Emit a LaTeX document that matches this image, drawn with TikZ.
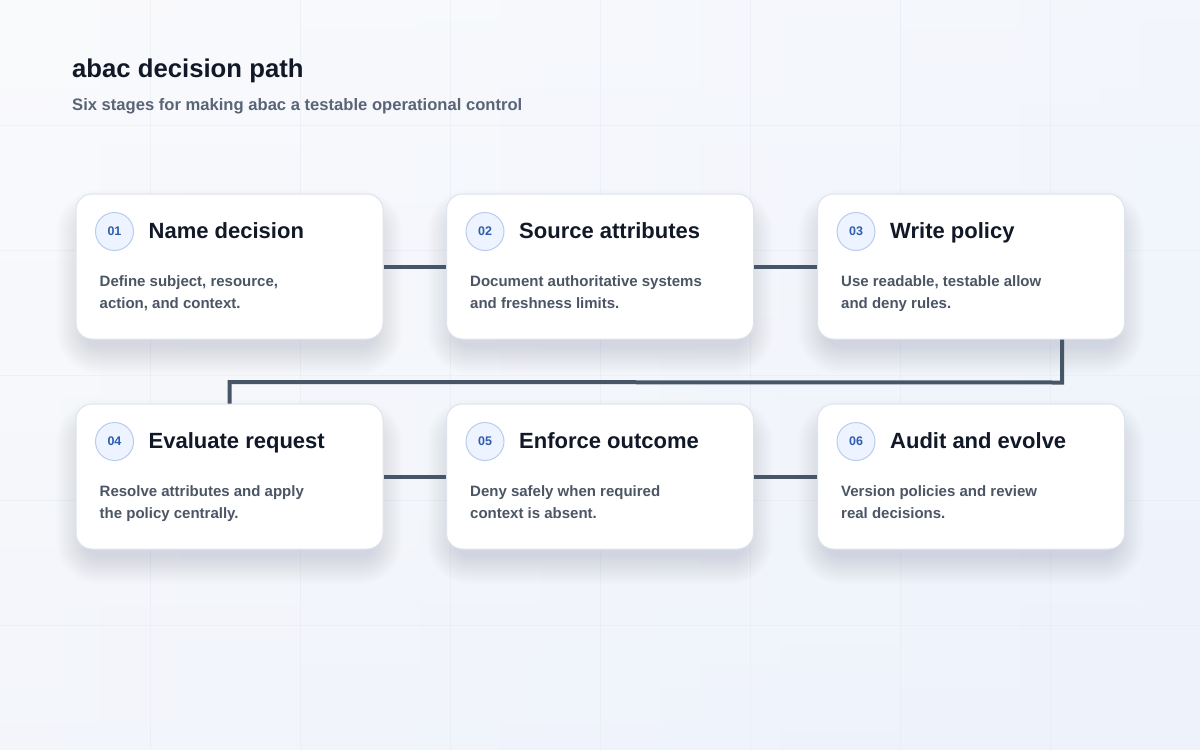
\documentclass[tikz,border=0pt]{standalone}
\usepackage{fontspec}
\setmainfont{Liberation Sans}
\usetikzlibrary{calc}
\definecolor{bgA}{HTML}{F7F8FB}
\definecolor{bgB}{HTML}{EDF2FB}
\definecolor{gridc}{HTML}{E6EAF1}
\definecolor{cardborder}{HTML}{DEE4EE}
\definecolor{ink}{HTML}{111827}
\definecolor{desc}{HTML}{4B5565}
\definecolor{subc}{HTML}{5A6477}
\definecolor{linec}{HTML}{475569}
\definecolor{numfill}{HTML}{EEF4FF}
\definecolor{numborder}{HTML}{B8CCEC}
\definecolor{numtext}{HTML}{2F5DAE}
\definecolor{shadowc}{HTML}{3A4868}
\tikzset{
  cardbox/.style={draw=cardborder, line width=1pt, fill=white, rounded corners=16pt,
    minimum width=307pt, minimum height=145pt, inner sep=0pt},
  numbadge/.style={circle, draw=numborder, line width=1pt, fill=numfill, minimum size=38pt,
    inner sep=0pt, text=numtext, font=\bfseries\fontsize{12.5}{14}\selectfont},
  cardtitle/.style={anchor=base west, inner sep=0pt, text=ink, font=\bfseries\fontsize{22}{26}\selectfont},
  carddesc/.style={anchor=base west, inner sep=0pt, text=desc, font=\bfseries\fontsize{15}{18}\selectfont},
  flow/.style={draw=linec, line width=4pt},
}
\newcommand\stagecard[8]{%
  % soft shadow
  \foreach \k in {0,...,15}{
    \fill[shadowc, opacity=0.0085, rounded corners=16pt+1.8*\k pt]
      (#2-146-1.8*\k, #3-62-1.8*\k+12) rectangle (#2+146+1.8*\k, #3+72.5+1.8*\k+8);
  }
  \node[cardbox] (#1) at (#2,#3) {};
  \node[numbadge] (#1n) at ($(#1.north west)+(39,38)$) {#4};
  \node[cardtitle] (#1t) at ($(#1.north west)+(73,45)$) {#5};
  \node[carddesc] (#1a) at ($(#1.north west)+(24,93)$) {#6};
  \node[carddesc] (#1b) at ($(#1.north west)+(24,115)$) {#7};
}
\begin{document}
\begin{tikzpicture}[x=1pt,y=-1pt]
  \useasboundingbox (0,0) rectangle (1200,750);
  \shade[left color=bgA, right color=bgB] (0,0) rectangle (1200,750);
  \shade[top color=white, bottom color=bgB, opacity=0.35] (0,0) rectangle (1200,750);
  \foreach \gx in {150,300,...,1050} { \draw[gridc, line width=0.8pt, opacity=0.5] (\gx,0) -- (\gx,750); }
  \foreach \gy in {125,250,...,625} { \draw[gridc, line width=0.8pt, opacity=0.5] (0,\gy) -- (1200,\gy); }

  \node[anchor=base west, inner sep=0pt, text=ink, font=\bfseries\fontsize{25.7}{30}\selectfont] (title) at (72,77) {abac decision path};
  \node[anchor=base west, inner sep=0pt, text=subc, font=\bfseries\fontsize{16.6}{20}\selectfont] (subtitle) at (72,110) {Six stages for making abac a testable operational control};

  \stagecard{c1}{229.5}{266.5}{01}{Name decision}{Define subject, resource,}{action, and context.}{}
  \stagecard{c2}{600}{266.5}{02}{Source attributes}{Document authoritative systems}{and freshness limits.}{}
  \stagecard{c3}{971}{266.5}{03}{Write policy}{Use readable, testable allow}{and deny rules.}{}
  \stagecard{c4}{229.5}{476.5}{04}{Evaluate request}{Resolve attributes and apply}{the policy centrally.}{}
  \stagecard{c5}{600}{476.5}{05}{Enforce outcome}{Deny safely when required}{context is absent.}{}
  \stagecard{c6}{971}{476.5}{06}{Audit and evolve}{Version policies and review}{real decisions.}{}

  \coordinate (turnA) at ($(c3.south)+(91,0)$);
  \coordinate (turnB) at ($(c3.south)+(91,43)$);
  \coordinate (turnC) at ($(c4.north)+(0,-21.5)$);

  \draw[flow] (c1.east) -- (c2.west);
  \draw[flow] (c2.east) -- (c3.west);
  \draw[flow] (turnA) -- (turnB) -- (turnC) -- (c4.north);
  \draw[flow] (c4.east) -- (c5.west);
  \draw[flow] (c5.east) -- (c6.west);
\end{tikzpicture}
\end{document}
